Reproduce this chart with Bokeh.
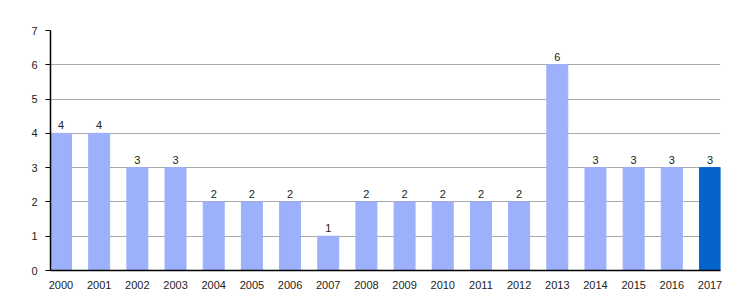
from bokeh.plotting import figure
from bokeh.models import ColumnDataSource, FixedTicker, Range1d, LabelSet
from bokeh.core.properties import value
from bokeh.embed import file_html
from bokeh.resources import INLINE

years = ["2000", "2001", "2002", "2003", "2004", "2005", "2006", "2007", "2008",
         "2009", "2010", "2011", "2012", "2013", "2014", "2015", "2016", "2017"]
counts = [4, 4, 3, 3, 2, 2, 2, 1, 2, 2, 2, 2, 2, 6, 3, 3, 3, 3]
colors = ["#9db0fb"] * 17 + ["#0563cc"]

xs = list(range(len(years)))
src = ColumnDataSource(dict(x=xs, top=counts, color=colors,
                            label=[str(c) for c in counts]))

bw = 0.55
p = figure(width=750, height=300, output_backend="svg", toolbar_location=None,
           x_range=Range1d(-bw / 2, len(years) - 1 + bw / 2), y_range=Range1d(0, 7),
           min_border_left=50, min_border_right=30, min_border_top=30, min_border_bottom=30)
p.outline_line_color = None
p.background_fill_color = "white"

p.vbar(x="x", top="top", width=bw, color="color", source=src)

labels = LabelSet(x="x", y="top", text="label", source=src, text_align="center",
                  text_baseline="bottom", y_offset=4, text_font_size="11px",
                  text_font=value("Liberation Sans"), text_color="#222222")
p.add_layout(labels)

p.xaxis.ticker = FixedTicker(ticks=xs)
p.xaxis.major_label_overrides = {i: y for i, y in enumerate(years)}
p.xaxis.major_tick_line_color = None
p.xaxis.minor_tick_line_color = None
p.xaxis.axis_line_color = "black"
p.xaxis.axis_line_width = 1.5
p.xaxis.major_label_standoff = 4
p.xaxis.major_label_text_font_size = "11px"
p.xaxis.major_label_text_font = "Liberation Sans"
p.xaxis.major_label_text_color = "#222222"

p.yaxis.ticker = FixedTicker(ticks=list(range(0, 8)))
p.yaxis.axis_line_color = "black"
p.yaxis.axis_line_width = 1.5
p.yaxis.major_tick_line_color = "black"
p.yaxis.major_tick_out = 5
p.yaxis.major_tick_in = 0
p.yaxis.minor_tick_line_color = None
p.yaxis.major_label_standoff = 8
p.yaxis.major_label_text_font_size = "11px"
p.yaxis.major_label_text_font = "Liberation Sans"
p.yaxis.major_label_text_color = "#222222"

p.xgrid.grid_line_color = None
p.ygrid.grid_line_color = "#aaaaaa"
p.ygrid.level = "underlay"

open("out.html", "w").write(file_html(p, INLINE))
